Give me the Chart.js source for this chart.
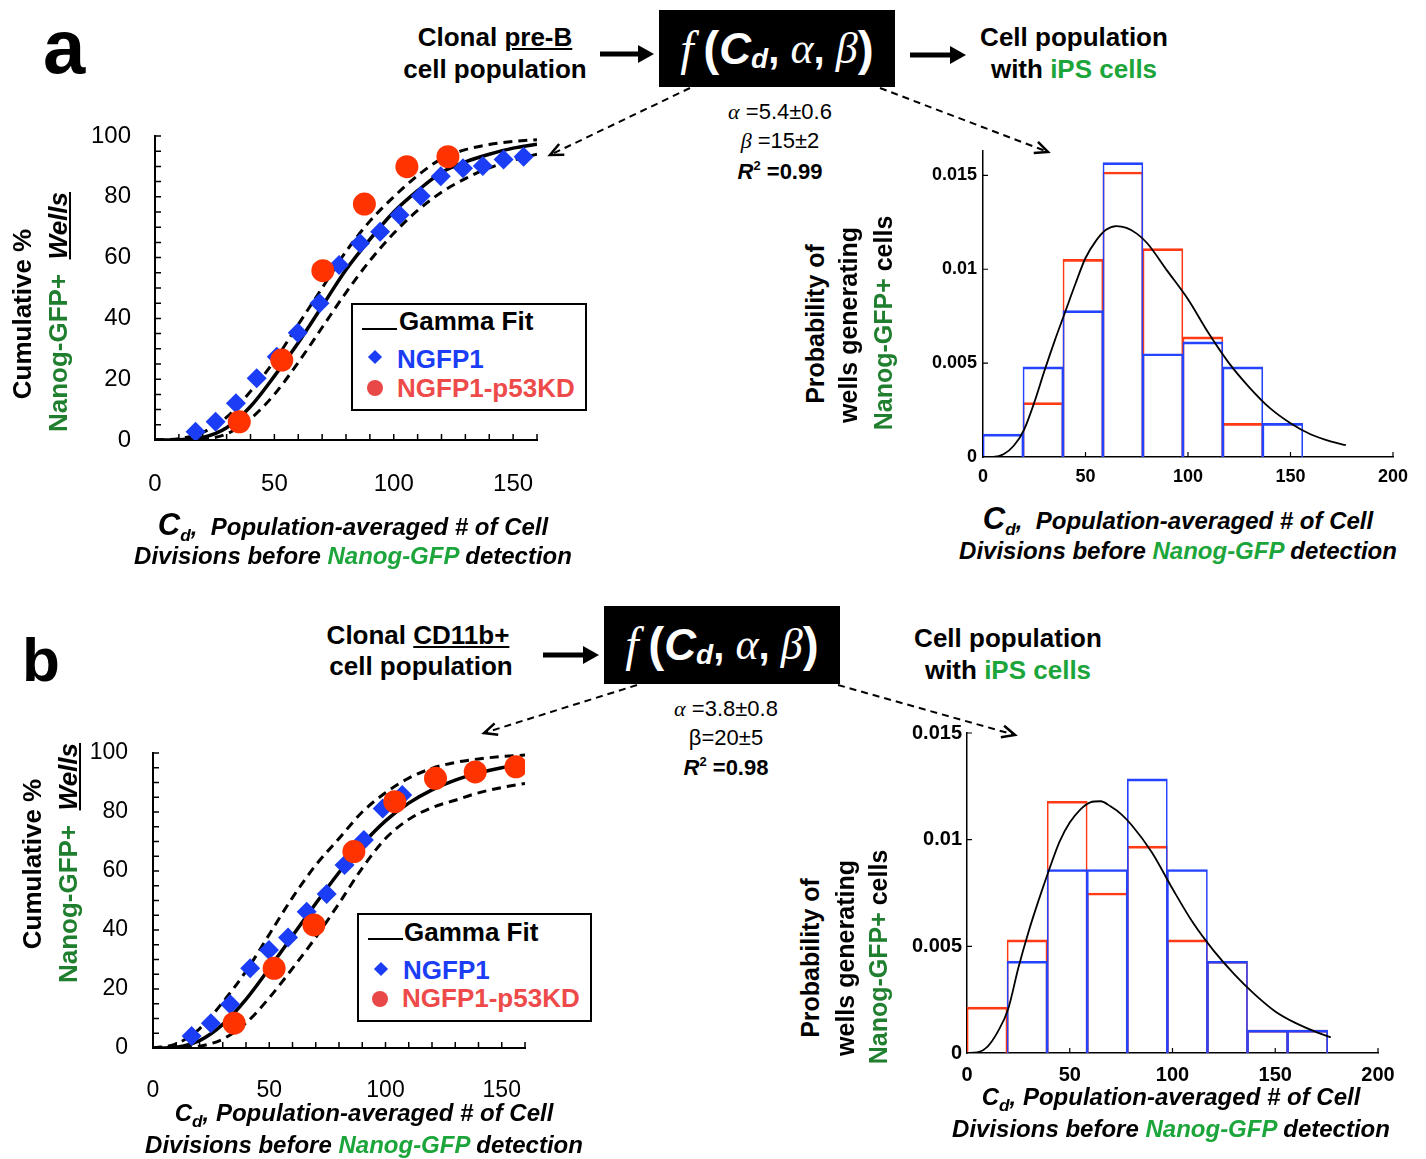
<!DOCTYPE html>
<html>
<head>
<meta charset="utf-8">
<script src="https://cdn.jsdelivr.net/npm/chart.js@4.4.1/dist/chart.umd.min.js"></script>
<style>
body { margin: 0; background: #fff; }
#fig { position: relative; width: 1426px; height: 1159px; overflow: hidden; font-family: "Liberation Sans", Arial, sans-serif; color: #000; }
canvas { position: absolute; }
.t { position: absolute; white-space: nowrap; font-weight: bold; line-height: 1; transform: translate(-50%, -50%); }
.r { transform: translate(-50%, -50%) rotate(-90deg); }
.bi { font-style: italic; font-size: 24px; }
.g { color: #1ca53a; }
.dg { color: #1f7f2e; }
.sub { font-size: 0.72em; vertical-align: -0.35em; }
.ser { font-family: "Liberation Serif", serif; font-style: italic; font-weight: normal; }
.box { position: absolute; background: #000; color: #fff; display: flex; align-items: center; justify-content: center; font-weight: bold; line-height: 1; }
.leg { position: absolute; border: 2px solid #000; background: #fff; box-sizing: border-box; }
.lt { position: absolute; white-space: nowrap; font-weight: bold; font-size: 26px; line-height: 1; transform: translateY(-50%); }
.dia { position: absolute; width: 10px; height: 10px; background: #1a3df5; transform: translate(-50%, -50%) rotate(45deg); }
.dot { position: absolute; width: 16px; height: 16px; border-radius: 50%; background: #e84848; transform: translate(-50%, -50%); }
.ln { position: absolute; height: 0; border-top: 2px solid #000; }
</style>
</head>
<body>
<div id="fig">
<svg id="arrows" width="1426" height="1159" style="position:absolute;left:0;top:0"></svg>

<canvas id="scatA" width="545" height="410" style="left:0;top:110px"></canvas>
<canvas id="histA" width="570" height="380" style="left:850px;top:120px"></canvas>
<canvas id="scatB" width="535" height="400" style="left:0;top:725px"></canvas>
<canvas id="histB" width="560" height="420" style="left:840px;top:700px"></canvas>

<!-- panel a : diagram -->
<div class="t" style="transform:none;font-size:76px;left:43px;top:9px">a</div>
<div class="t" style="left:495px;top:37px;font-size:26px">Clonal <u>pre-B</u></div>
<div class="t" style="left:495px;top:69px;font-size:26px">cell population</div>
<div class="box" style="left:659px;top:10px;width:236px;height:77px">
  <span class="ser" style="font-size:48px">f</span><span style="font-size:48px">&thinsp;(</span><span style="font-size:44px;font-style:italic">C</span><span style="font-size:28px;font-style:italic;position:relative;top:10px">d</span><span style="font-size:40px">,&nbsp;</span><span class="ser" style="font-size:44px">α</span><span style="font-size:40px">,&nbsp;</span><span class="ser" style="font-size:44px">β</span><span style="font-size:48px">)</span>
</div>
<div class="t" style="left:1074px;top:37px;font-size:26px">Cell population</div>
<div class="t" style="left:1074px;top:69px;font-size:26px">with <span class="g">iPS cells</span></div>
<div class="t" style="left:780px;top:112px;font-size:22px;font-weight:normal"><span class="ser">α</span> =5.4±0.6</div>
<div class="t" style="left:780px;top:141px;font-size:22px;font-weight:normal"><span class="ser">β</span> =15±2</div>
<div class="t" style="left:780px;top:171px;font-size:22px"><i>R</i><sup style="font-size:13px">2</sup> =0.99</div>

<!-- panel a : titles -->
<div class="t r" style="left:22px;top:314px;font-size:26px">Cumulative %</div>
<div class="t r" style="left:58px;top:312px;font-size:26px"><span class="dg">Nanog-GFP+</span>&nbsp; <i><u>Wells</u></i></div>
<div class="t bi" style="left:353px;top:527px"><span style="font-size:31px">C</span><span class="sub">d</span>,&nbsp; Population-averaged # of Cell</div>
<div class="t bi" style="left:353px;top:556px">Divisions before <span class="g">Nanog-GFP</span> detection</div>
<div class="t r" style="left:815px;top:324px;font-size:25px">Probability of</div>
<div class="t r" style="left:848px;top:325px;font-size:25px">wells generating</div>
<div class="t r" style="left:883px;top:323px;font-size:25px"><span class="dg">Nanog-GFP+</span> cells</div>
<div class="t bi" style="left:1178px;top:521px"><span style="font-size:31px">C</span><span class="sub">d</span>,&nbsp; Population-averaged # of Cell</div>
<div class="t bi" style="left:1178px;top:551px">Divisions before <span class="g">Nanog-GFP</span> detection</div>

<div class="leg" style="left:351px;top:303px;width:236px;height:108px"></div>
<div class="ln" style="left:362px;top:328px;width:35px"></div>
<div class="lt" style="left:399px;top:321px">Gamma Fit</div>
<div class="dia" style="left:375px;top:357px"></div>
<div class="lt" style="left:397px;top:359px;color:#1a3df5">NGFP1</div>
<div class="dot" style="left:375px;top:388px"></div>
<div class="lt" style="left:397px;top:388px;color:#ee4a4a">NGFP1-p53KD</div>

<!-- panel b : diagram -->
<div class="t" style="transform:none;font-size:62px;left:22px;top:629px">b</div>
<div class="t" style="left:418px;top:635px;font-size:26px">Clonal <u>CD11b+</u></div>
<div class="t" style="left:421px;top:666px;font-size:26px">cell population</div>
<div class="box" style="left:604px;top:606px;width:236px;height:78px">
  <span class="ser" style="font-size:48px">f</span><span style="font-size:48px">&thinsp;(</span><span style="font-size:44px;font-style:italic">C</span><span style="font-size:28px;font-style:italic;position:relative;top:10px">d</span><span style="font-size:40px">,&nbsp;</span><span class="ser" style="font-size:44px">α</span><span style="font-size:40px">,&nbsp;</span><span class="ser" style="font-size:44px">β</span><span style="font-size:48px">)</span>
</div>
<div class="t" style="left:1008px;top:638px;font-size:26px">Cell population</div>
<div class="t" style="left:1008px;top:670px;font-size:26px">with <span class="g">iPS cells</span></div>
<div class="t" style="left:726px;top:709px;font-size:22px;font-weight:normal"><span class="ser">α</span> =3.8±0.8</div>
<div class="t" style="left:726px;top:738px;font-size:22px;font-weight:normal">β=20±5</div>
<div class="t" style="left:726px;top:767px;font-size:22px"><i>R</i><sup style="font-size:13px">2</sup> =0.98</div>

<!-- panel b : titles -->
<div class="t r" style="left:32px;top:864px;font-size:26px">Cumulative %</div>
<div class="t r" style="left:68px;top:863px;font-size:26px"><span class="dg">Nanog-GFP+</span>&nbsp; <i><u>Wells</u></i></div>
<div class="t bi" style="left:364px;top:1116px">C<span class="sub">d</span>, Population-averaged # of Cell</div>
<div class="t bi" style="left:364px;top:1145px">Divisions before <span class="g">Nanog-GFP</span> detection</div>
<div class="t r" style="left:810px;top:958px;font-size:25px">Probability of</div>
<div class="t r" style="left:845px;top:958px;font-size:25px">wells generating</div>
<div class="t r" style="left:878px;top:957px;font-size:25px"><span class="dg">Nanog-GFP+</span> cells</div>
<div class="t bi" style="left:1171px;top:1100px">C<span class="sub">d</span>, Population-averaged # of Cell</div>
<div class="t bi" style="left:1171px;top:1129px">Divisions before <span class="g">Nanog-GFP</span> detection</div>

<div class="leg" style="left:357px;top:913px;width:235px;height:109px"></div>
<div class="ln" style="left:368px;top:938px;width:35px"></div>
<div class="lt" style="left:404px;top:932px">Gamma Fit</div>
<div class="dia" style="left:381px;top:969px"></div>
<div class="lt" style="left:403px;top:970px;color:#1a3df5">NGFP1</div>
<div class="dot" style="left:380px;top:999px"></div>
<div class="lt" style="left:402px;top:998px;color:#ee4a4a">NGFP1-p53KD</div>
</div>

<script>
// ---- panel a (pre-B) : cumulative % of Nanog-GFP+ wells ----
const aNgfpX = [17, 25.4, 33.9, 42.6, 51, 59.8, 68.9, 77.1, 85.9, 94.3, 102.4, 111.3, 119.7, 129, 137.3, 146, 154.4]
const aNgfpY = [2.7, 6, 12.1, 20.3, 27.4, 35.3, 45, 57.6, 64.7, 68.5, 74, 80.3, 86.8, 89.4, 90.1, 92.3, 93.2]
const aP53X = [35.3, 53.1, 70.3, 87.7, 105.5, 122.7]
const aP53Y = [6, 26.3, 55.7, 77.6, 89.9, 93.2]

// gamma fit curves, read every 10 divisions
const fitX = [0, 10, 20, 30, 40, 50, 60, 70, 80, 90, 100, 110, 120, 130, 140, 150, 160]
const aFit = [0, 0.1, 0.8, 4, 11, 21, 32, 44, 56, 66, 75, 82, 88, 91.5, 94, 96, 97.3]
const aFitHi = [0, 0.4, 2.5, 7.5, 16, 26, 38, 50, 62, 72, 80, 87, 92.5, 95.5, 97.2, 98.2, 98.8]
const aFitLo = [0, 0, 0.3, 2, 7, 15, 25.5, 37, 48.5, 59, 68, 75.5, 81.5, 86, 89.5, 92, 94]

// ---- panel b (CD11b+) ----
const bNgfpX = [16.6, 24.9, 33.2, 41.8, 49.9, 58.1, 66.1, 74.7, 82.4, 90.7, 98.8, 107.2]
const bNgfpY = [4.1, 8.4, 14.8, 27, 33.2, 37.5, 46.2, 52.2, 62, 70.5, 81.2, 85.8]
const bP53X = [34.9, 52.1, 69.2, 86.4, 104, 121.5, 138.6, 156.1]
const bP53Y = [8.4, 27, 41.7, 66.6, 83.5, 91.4, 93.6, 95.3]
const bFit = [0, 0.3, 2.5, 8, 16.5, 27, 38, 49, 59.5, 69, 77, 83, 87.5, 90.8, 93.2, 95, 96.3]
const bFitHi = [0, 1.4, 6.5, 15.5, 26, 38.5, 51, 62, 71, 80, 86.5, 91.5, 94.8, 96.8, 98, 98.8, 99.3]
const bFitLo = [0, 0, 0.6, 3, 8.5, 17, 27, 37.5, 49, 61, 71, 77.5, 81.5, 84, 86.5, 88.3, 89.7]

// ---- histograms : probability per bin ----
const binMid = [9.75, 29.25, 48.75, 68.25, 87.75, 107.25, 126.75, 146.25, 165.75]
const aHistBlue = [0.00122, 0.0048, 0.0078, 0.01568, 0.0055, 0.00613, 0.0048, 0.00179, 0]
const aHistRed = [0, 0.0029, 0.01053, 0.01518, 0.0111, 0.0064, 0.00179, 0, null]
const bHistBlue = [0, 0.0043, 0.0086, 0.0086, 0.01285, 0.0086, 0.0043, 0.00107, 0.00107]
const bHistRed = [0.00215, 0.0053, 0.0118, 0.0075, 0.0097, 0.0053, 0.0043, 0.00107, 0.00107]

const pdfX = [0, 5, 10, 15, 20, 25, 30, 35, 40, 45, 50, 55, 60, 65, 70, 75, 80, 90, 100, 110, 120, 130, 140, 150, 160, 170, 177]
const aPdf = [0, 0.00001, 0.00015, 0.0006, 0.00145, 0.0029, 0.0046, 0.0062, 0.0077, 0.0092, 0.0106, 0.0115, 0.0121, 0.0123, 0.0122, 0.0119, 0.0114,
    0.0099, 0.0084, 0.0066, 0.005, 0.0037, 0.0026, 0.0018, 0.0012, 0.00082, 0.00063]
const bPdf = [0, 0.00003, 0.0003, 0.001, 0.00205, 0.004, 0.0057, 0.0072, 0.0086, 0.0099, 0.0108, 0.0114, 0.01175, 0.0118, 0.01155, 0.0112, 0.0107,
    0.0094, 0.0077, 0.0061, 0.0048, 0.0037, 0.00275, 0.00195, 0.0014, 0.00098, 0.00073]

const azul = '#1a3df5'
const rojo = '#ff3300'
const azulH = '#2443ff'
const rojoH = '#ff3a14'

Chart.defaults.font.family = '"Liberation Sans", Arial, sans-serif'
Chart.defaults.color = '#000'

function pts(xs, ys) {
    return xs.map((x, i) => ({ x: x, y: ys[i] }))
}

// small ticks pointing into the plot
const innerTicks = {
    id: 'innerTicks',
    afterDraw(chart, args, o) {
        const { ctx, chartArea: ca, scales: { x, y } } = chart
        ctx.save()
        ctx.strokeStyle = '#000'
        ctx.lineWidth = o.width
        ctx.beginPath()
        for (let i = 1; x.min + i * o.xStep <= x.max + 1e-9; i++) {
            const px = x.getPixelForValue(x.min + i * o.xStep)
            ctx.moveTo(px, ca.bottom)
            ctx.lineTo(px, ca.bottom - o.xLen)
        }
        for (let i = 1; y.min + i * o.yStep <= y.max + 1e-12; i++) {
            const py = y.getPixelForValue(y.min + i * o.yStep)
            ctx.moveTo(ca.left, py)
            ctx.lineTo(ca.left + o.yLen, py)
        }
        ctx.stroke()
        ctx.restore()
    }
}

// the gap between axis and labels goes in tickLength (padding would also shrink the plot area)
function ejes(d, xOpts, yOpts, font, bw) {
    return {
        x: Object.assign({
            type: 'linear',
            grid: { display: false, drawTicks: true, tickLength: d.xPad },
            border: { color: '#000', width: bw },
            ticks: Object.assign({ autoSkip: false, maxRotation: 0, padding: 0, font: font }, xOpts.ticks),
            afterFit: s => { s.height = d.xH }
        }, xOpts.range),
        y: Object.assign({
            grid: { display: false, drawTicks: true, tickLength: d.yPad },
            border: { color: '#000', width: bw },
            ticks: Object.assign({ autoSkip: false, padding: 0, font: font }, yOpts.ticks),
            afterFit: s => { s.width = d.yW }
        }, yOpts.range)
    }
}

function grafScatter(id, d) {
    const curva = (data, dash, w, ord) => ({
        data: pts(fitX, data), showLine: true, pointRadius: 0, borderColor: '#000', borderWidth: w,
        borderDash: dash, cubicInterpolationMode: 'monotone', order: ord
    })
    new Chart(document.getElementById(id), {
        type: 'scatter',
        data: {
            datasets: [
                { label: 'NGFP1-p53KD', data: pts(d.p53X, d.p53Y), pointStyle: 'circle', pointRadius: 11.5, backgroundColor: rojo, borderWidth: 0, order: 0 },
                { label: 'NGFP1', data: pts(d.ngX, d.ngY), pointStyle: 'rectRot', pointRadius: 10, backgroundColor: azul, borderWidth: 0, order: 1 },
                curva(d.fit, [], 3.5, 2),
                curva(d.hi, [9, 6], 3, 3),
                curva(d.lo, [9, 6], 3, 4),
            ]
        },
        options: {
            responsive: false,
            animation: false,
            events: [],
            layout: { autoPadding: false, padding: { top: d.padTop, right: d.padRight } },
            plugins: {
                legend: { display: false },
                tooltip: { enabled: false },
                innerTicks: { xStep: 10, yStep: 5, xLen: 6, yLen: 6, width: 1.5 }
            },
            scales: ejes(d,
                { range: { min: 0, max: 160 }, ticks: { stepSize: 10, callback: v => v % 50 === 0 ? v : '' } },
                { range: { min: 0, max: 100 }, ticks: { stepSize: 5, callback: v => v % 20 === 0 ? v : '' } },
                { size: d.fs }, 2)
        },
        plugins: [innerTicks]
    })
}

function grafHist(id, d) {
    const barra = (vals, color, ord) => ({
        type: 'bar', data: pts(binMid, vals), backgroundColor: 'rgba(0,0,0,0)', borderColor: color,
        borderWidth: { top: 2, left: 1, right: 1, bottom: 0 }, borderSkipped: false,
        grouped: false, barPercentage: 1, categoryPercentage: 1, order: ord
    })
    const sc = ejes(d,
        { range: { min: 0, max: 200, offset: false }, ticks: { stepSize: 50 } },
        { range: { min: 0, max: d.yMax }, ticks: { stepSize: 0.005, includeBounds: false, callback: v => String(parseFloat(v.toFixed(4))) } },
        { size: d.fs, weight: 'bold' }, 1.5)
    new Chart(document.getElementById(id), {
        type: 'bar',
        data: {
            datasets: [
                { type: 'line', data: pts(pdfX, d.pdf), borderColor: '#000', borderWidth: 1.8, pointRadius: 0,
                    cubicInterpolationMode: 'monotone', order: 0 },
                barra(d.blue, azulH, 1),
                barra(d.red, rojoH, 2),
            ]
        },
        options: {
            responsive: false,
            animation: false,
            events: [],
            layout: { autoPadding: false, padding: { top: d.padTop, right: d.padRight } },
            plugins: {
                legend: { display: false },
                tooltip: { enabled: false },
                innerTicks: { xStep: 50, yStep: 0.005, xLen: 5, yLen: 5, width: 1.2 }
            },
            scales: sc
        },
        plugins: [innerTicks]
    })
}

grafScatter('scatA', { ngX: aNgfpX, ngY: aNgfpY, p53X: aP53X, p53Y: aP53Y, fit: aFit, hi: aFitHi, lo: aFitLo,
    padTop: 26, padRight: 8, xH: 80, yW: 155, xPad: 30, yPad: 24, fs: 24 })
grafScatter('scatB', { ngX: bNgfpX, ngY: bNgfpY, p53X: bP53X, p53Y: bP53Y, fit: bFit, hi: bFitHi, lo: bFitLo,
    padTop: 28, padRight: 10, xH: 77, yW: 153, xPad: 29, yPad: 25, fs: 23 })
grafHist('histA', { blue: aHistBlue, red: aHistRed, pdf: aPdf, yMax: 0.0163,
    padTop: 31, padRight: 27, xH: 43, yW: 133, xPad: 9, yPad: 6, fs: 18 })
grafHist('histB', { blue: bHistBlue, red: bHistRed, pdf: bPdf, yMax: 0.015,
    padTop: 33, padRight: 22, xH: 67, yW: 127, xPad: 10, yPad: 5, fs: 20 })

// Flechas del diagrama
const svg = document.getElementById('arrows')
function add(tag, attrs) {
    const el = document.createElementNS('http://www.w3.org/2000/svg', tag)
    for (const k in attrs) el.setAttribute(k, attrs[k])
    svg.appendChild(el)
}
function flecha(x1, x2, y) {
    add('line', { x1: x1, y1: y, x2: x2 - 12, y2: y, stroke: '#000', 'stroke-width': 5 })
    add('polygon', { points: `${x2 - 16},${y - 9} ${x2},${y} ${x2 - 16},${y + 9}`, fill: '#000' })
}
function flechaPunteada(x1, y1, x2, y2) {
    add('line', { x1: x1, y1: y1, x2: x2, y2: y2, stroke: '#000', 'stroke-width': 2, 'stroke-dasharray': '7,5' })
    const len = Math.hypot(x2 - x1, y2 - y1)
    const ux = (x2 - x1) / len, uy = (y2 - y1) / len
    const bx = x2 - ux * 13, by = y2 - uy * 13
    add('polyline', { points: `${bx - uy * 6},${by + ux * 6} ${x2},${y2} ${bx + uy * 6},${by - ux * 6}`,
        fill: 'none', stroke: '#000', 'stroke-width': 2.5 })
}
flecha(600, 654, 54)
flecha(910, 966, 55)
flecha(543, 599, 655)
flechaPunteada(690, 88, 550, 155)
flechaPunteada(880, 88, 1048, 152)
flechaPunteada(637, 685, 484, 733)
flechaPunteada(838, 685, 1015, 735)
</script>
</body>
</html>
